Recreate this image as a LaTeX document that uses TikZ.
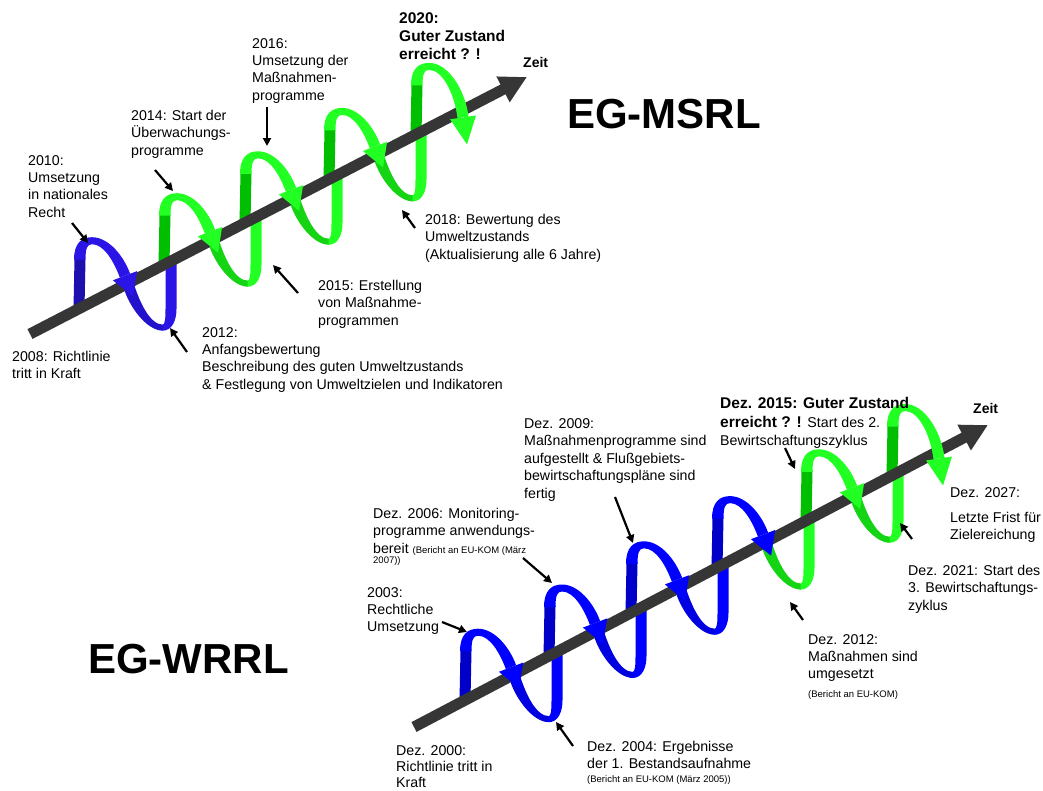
\documentclass[tikz,border=0pt]{standalone}
\usepackage{fontspec}
\setmainfont{Liberation Sans}
\usetikzlibrary{arrows.meta}
\definecolor{axisgray}{HTML}{363636}
\definecolor{mback}{HTML}{1E10AE}
\definecolor{mmid}{HTML}{2312CC}
\definecolor{mfront}{HTML}{2A14E6}
\definecolor{gback}{HTML}{00BF00}
\definecolor{gmid}{HTML}{14D414}
\definecolor{gfront}{HTML}{22FF22}
\definecolor{wback}{HTML}{0000C8}
\definecolor{wmid}{HTML}{0000E0}
\definecolor{wfront}{HTML}{0000FF}
\tikzset{
  rib/.style={draw=#1, line width=11pt, line cap=butt},
  timeaxis/.style={draw=axisgray, line width=11pt, -{Triangle[length=27pt,width=27pt]}},
  pointer/.style={draw=black, line width=2.2pt, -{Triangle[length=8pt,width=8pt]}},
  lbl/.style={font=\fontsize{14.2}{17.3}\selectfont, align=left, anchor=north west, inner sep=0pt},
  lblb/.style={font=\bfseries\fontsize{15.5}{17.8}\selectfont, align=left, anchor=north west, inner sep=0pt},
  zeitlbl/.style={font=\bfseries\fontsize{14}{16}\selectfont, anchor=west, inner sep=0pt},
  bigtitle/.style={font=\bfseries\fontsize{42}{44}\selectfont, anchor=base west, inner sep=0pt},
}
\newcommand\smalltxt{\fontsize{9.5}{10}\selectfont}
% back strip + lower arc + right strip of one turn
\newcommand\LoopLow[5]{%
  \begin{scope}[shift={(#1,#2)}]
    \draw[rib=#3] (0,0) -- (1,-50);
    \fill[#4] (44.8,-20.3) .. controls (50.8,-1) and (68,22) .. (84,22)
      -- (84,16) .. controls (71,16) and (61,-6) .. (55.2,-23.7) -- cycle;
    \fill[#5] (83.5,22) .. controls (93,22) and (97.5,12) .. (97.5,0) -- (97.5,-48)
      -- (86.5,-48) -- (86.5,0) .. controls (86.5,10) and (86,16) .. (83.5,16) -- cycle;
  \end{scope}}
% upper arc with arrowhead (in front of the axis)
\newcommand\LoopUp[3]{%
  \begin{scope}[shift={(#1,#2)}]
    \fill[#3] (-5,-49) .. controls (-5,-66) and (3,-71.5) .. (13,-71.5)
      .. controls (30,-71.5) and (45,-52) .. (51.1,-35) -- (40.9,-31)
      .. controls (35,-47) and (25,-64.5) .. (13,-64.5)
      .. controls (8,-64.5) and (6.5,-60) .. (6.5,-49) -- cycle;
    \fill[#3] (33.9,-28.4) -- (58.1,-37.6) -- (54,-12) -- cycle;
  \end{scope}}
% last upper arc, crossing the axis
\newcommand\LoopEnd[3]{%
  \begin{scope}[shift={(#1,#2)}]
    \fill[#3] (-5,-49) .. controls (-5,-66) and (3,-71.5) .. (13,-71.5)
      .. controls (33,-71.5) and (49.5,-43) .. (52.5,-17.7) -- (41.5,-16.4)
      .. controls (38.5,-40) and (27,-64.5) .. (13,-64.5)
      .. controls (8,-64.5) and (6.5,-60) .. (6.5,-49) -- cycle;
    \fill[#3] (34.1,-15.1) -- (59.9,-18.9) -- (51,10) -- cycle;
  \end{scope}}
\begin{document}
\begin{tikzpicture}[x=1pt,y=-1pt]
\fill[white] (0,0) rectangle (1043,790);
\useasboundingbox (0,0) rectangle (1043,790);

% ---------- lower / back parts of the loops ----------
% EG-MSRL
\LoopLow{79}{308.7}{mback}{mmid}{mfront}
\LoopLow{164}{264.7}{gback}{gmid}{gfront}
\LoopLow{245}{222.8}{gback}{gmid}{gfront}
\LoopLow{329}{179.4}{gback}{gmid}{gfront}
\begin{scope}[shift={(416,134.4)}]
  \draw[rib=gback] (0,0) -- (1,-50);
\end{scope}
% EG-WRRL
\LoopLow{465}{700.2}{wback}{wmid}{wfront}
\LoopLow{549}{656.0}{wback}{wmid}{wfront}
\LoopLow{631}{612.8}{wback}{wmid}{wfront}
\LoopLow{717}{567.6}{wback}{gmid}{gfront}
\LoopLow{806}{520.8}{gback}{gmid}{gfront}
\begin{scope}[shift={(892,475.5)}]
  \draw[rib=gback] (0,0) -- (1,-50);
\end{scope}

% ---------- time axes ----------
\coordinate (mA) at (30,334);
\coordinate (mB) at (527,77);
\coordinate (wA) at (414,727);
\coordinate (wB) at (988,425);
\draw[timeaxis] (mA) -- (mB);
\draw[timeaxis] (wA) -- (wB);

% ---------- upper / front parts of the loops ----------
\LoopUp{79}{308.7}{mfront}
\LoopUp{164}{264.7}{gfront}
\LoopUp{245}{222.8}{gfront}
\LoopUp{329}{179.4}{gfront}
\LoopEnd{416}{134.4}{gfront}
\LoopUp{465}{700.2}{wfront}
\LoopUp{549}{656.0}{wfront}
\LoopUp{631}{612.8}{wfront}
\LoopUp{717}{567.6}{wfront}
\LoopUp{806}{520.8}{gfront}
\LoopEnd{892}{475.5}{gfront}

% ---------- EG-MSRL labels ----------
\node[bigtitle] (msrl) at (567,128) {EG-MSRL};
\node[zeitlbl] (mzeit) at (523,62) {Zeit};
\node[lbl] (m2010) at (28,155) {2010:\\Umsetzung\\in nationales\\Recht};
\node[lbl] (m2014) at (131,110) {2014: Start der\\Überwachungs-\\programme};
\node[lbl] (m2016) at (252,38) {2016:\\Umsetzung der\\Maßnahmen-\\programme};
\node[lblb] (m2020) at (399,12.5) {2020:\\Guter Zustand\\erreicht ? !};
\node[lbl] (m2018) at (425,214) {2018: Bewertung des\\Umweltzustands\\(Aktualisierung alle 6 Jahre)};
\node[lbl] (m2015) at (318,280) {2015: Erstellung\\von Maßnahme-\\programmen};
\node[lbl] (m2012) at (202,327) {2012:\\Anfangsbewertung\\Beschreibung des guten Umweltzustands\\\& Festlegung von Umweltzielen und Indikatoren};
\node[lbl] (m2008) at (12,351) {2008: Richtlinie\\tritt in Kraft};

\coordinate (p1s) at (72,223);  \coordinate (p1e) at (88,243);
\coordinate (p2s) at (155,170); \coordinate (p2e) at (173,191);
\coordinate (p3s) at (267,107); \coordinate (p3e) at (267,146);
\coordinate (p4s) at (415,228); \coordinate (p4e) at (402,210);
\coordinate (p5s) at (298,293); \coordinate (p5e) at (273,265);
\coordinate (p6s) at (187,352); \coordinate (p6e) at (170,328);
\draw[pointer] (p1s) -- (p1e);
\draw[pointer] (p2s) -- (p2e);
\draw[pointer] (p3s) -- (p3e);
\draw[pointer] (p4s) -- (p4e);
\draw[pointer] (p5s) -- (p5e);
\draw[pointer] (p6s) -- (p6e);

% ---------- EG-WRRL labels ----------
\node[bigtitle] (wrrl) at (88,673) {EG-WRRL};
\node[zeitlbl] (wzeit) at (973,408) {Zeit};
\node[lbl, font=\fontsize{14.2}{16.3}\selectfont] (w2000) at (396,745) {Dez. 2000:\\Richtlinie tritt in\\Kraft};
\node[lbl] (w2004) at (587,741) {Dez. 2004: Ergebnisse\\der 1. Bestandsaufnahme\\[-3.5pt]{\smalltxt (Bericht an EU-KOM (März 2005))}};
\node[lbl] (w2003) at (367,587) {2003:\\Rechtliche\\Umsetzung};
\node[lbl] (w2006) at (373,508) {Dez. 2006: Monitoring-\\programme anwendungs-\\bereit {\smalltxt (Bericht an EU-KOM (März}\\[-7pt]{\smalltxt 2007))}};
\node[lbl, font=\fontsize{14.2}{17.5}\selectfont] (w2009) at (524,418) {Dez. 2009:\\Maßnahmenprogramme sind\\aufgestellt \& Flußgebiets-\\bewirtschaftungspläne sind\\fertig};
\node[lblb, font=\bfseries\fontsize{15.5}{18.5}\selectfont] (w2015) at (720,397.5) {Dez. 2015: Guter Zustand\\erreicht ? ! {\mdseries\fontsize{14.2}{18.5}\selectfont Start des 2.}\\{\mdseries\fontsize{14.2}{18.5}\selectfont Bewirtschaftungszyklus}};
\node[lbl] (w2027) at (950,487) {Dez. 2027:\\[8pt]Letzte Frist für\\Zielereichung};
\node[lbl] (w2021) at (908,565) {Dez. 2021: Start des\\3. Bewirtschaftungs-\\zyklus};
\node[lbl] (w2012) at (808,634) {Dez. 2012:\\Maßnahmen sind\\umgesetzt\\[1.5pt]{\smalltxt (Bericht an EU-KOM)}};

\coordinate (q1s) at (442,622); \coordinate (q1e) at (467,632);
\coordinate (q2s) at (523,558); \coordinate (q2e) at (552,583);
\coordinate (q3s) at (615,497); \coordinate (q3e) at (633,543);
\coordinate (q4s) at (785,448); \coordinate (q4e) at (795,469);
\coordinate (q5s) at (912,539); \coordinate (q5e) at (900,523);
\coordinate (q6s) at (803,620); \coordinate (q6e) at (790,602);
\coordinate (q7s) at (573,746); \coordinate (q7e) at (556,722);
\draw[pointer] (q1s) -- (q1e);
\draw[pointer] (q2s) -- (q2e);
\draw[pointer] (q3s) -- (q3e);
\draw[pointer] (q4s) -- (q4e);
\draw[pointer] (q5s) -- (q5e);
\draw[pointer] (q6s) -- (q6e);
\draw[pointer] (q7s) -- (q7e);
\end{tikzpicture}
\end{document}
